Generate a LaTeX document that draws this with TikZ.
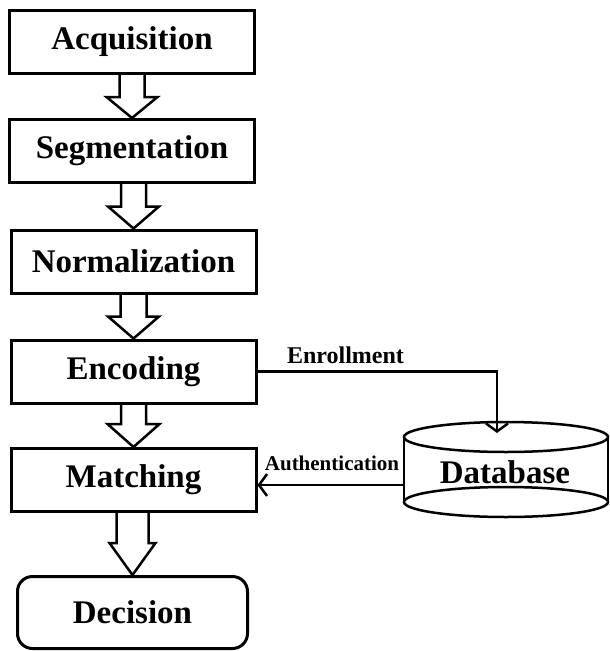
\documentclass[tikz,border=0pt]{standalone}
\usepackage{fontspec}
\setmainfont{Liberation Serif}
\usetikzlibrary{calc,arrows.meta}
\tikzset{
  stage/.style={draw, line width=3pt, rectangle, minimum width=245pt, minimum height=63pt,
    inner sep=0pt, font=\bfseries\fontsize{33}{38}\selectfont},
  endstage/.style={stage, rounded corners=15pt, minimum width=230pt, minimum height=72pt},
  blockarr/.style={draw, line width=2.5pt, line join=miter},
  conn/.style={draw, line width=2.5pt, -{Straight Barb[length=8pt,width=22pt,line width=2.5pt]}},
  lbl/.style={inner sep=0pt, font=\bfseries\fontsize{#1}{#1}\selectfont},
  dbline/.style={draw, line width=2.5pt}
}
\newcommand{\blockarrow}[5]{%
  \draw[blockarr] ($(#1.south -| #2.north)+(-#3,0)$) -- ($(#2.north)+(-#3,-#5)$) -- ($(#2.north)+(-#4,-#5)$)
    -- (#2.north) -- ($(#2.north)+(#4,-#5)$) -- ($(#2.north)+(#3,-#5)$) -- ($(#1.south -| #2.north)+(#3,0)$);}
\begin{document}
\begin{tikzpicture}[x=1pt,y=-1pt]
\useasboundingbox (0,0) rectangle (610,651);
\node[stage] (acq) at (132,42) {Acquisition};
\node[stage] (seg) at (132,151) {Segmentation};
\node[stage] (nor) at (133.5,261.5) {Normalization};
\node[stage] (enc) at (133.5,371.5) {Encoding};
\node[stage] (mat) at (133.5,480) {Matching};
\node[endstage] (dec) at (132.5,612.5) {Decision};
\blockarrow{acq}{seg}{12.5}{25.5}{21}
\blockarrow{seg}{nor}{12.5}{25.5}{22}
\blockarrow{nor}{enc}{13}{25.5}{22}
\blockarrow{enc}{mat}{12.5}{26}{23}
\blockarrow{mat}{dec}{16}{23}{32}
% database cylinder
\draw[dbline] (404,437) -- (404,502);
\draw[dbline] (608,437) -- (608,502);
\draw[dbline] (506,437) ellipse [x radius=102pt, y radius=15pt];
\draw[dbline] (506,502) ellipse [x radius=102pt, y radius=15pt];
\node[lbl=33] (db) at (505,472) {Database};
\coordinate (enrend) at (497,433);
\coordinate (dbleft) at (404,485);
\draw[conn] (enc.east) -| (enrend);
\draw[conn] (dbleft) -- (dbleft -| mat.east);
\node[lbl=24] (enrl) at (345.5,355) {Enrollment};
\node[lbl=21] (auth) at (332,463) {Authentication};
\end{tikzpicture}
\end{document}
